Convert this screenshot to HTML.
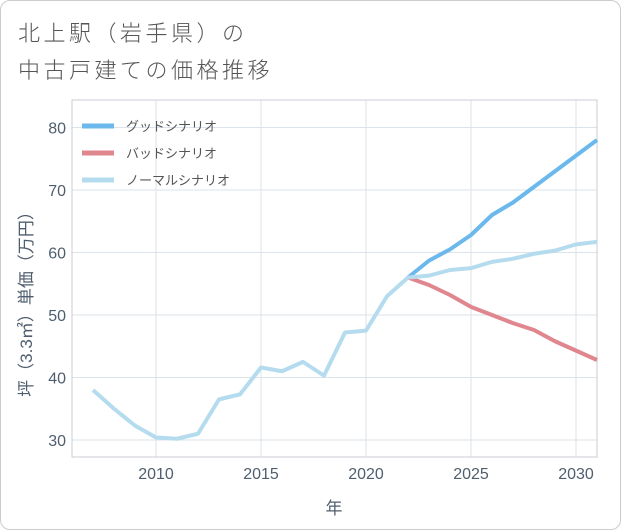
<!DOCTYPE html>
<html><head><meta charset="utf-8">
<style>
body{margin:0;background:#fff;font-family:"Liberation Sans","Noto Sans CJK JP",sans-serif;}
#card{position:absolute;left:0;top:0;width:619px;height:528px;border:1px solid #ccc;border-radius:10px;background:#fff;}
#title{position:absolute;left:18px;top:14px;font-size:22px;letter-spacing:3.5px;line-height:37px;color:#555;font-family:"Noto Sans CJK JP",sans-serif;font-weight:300;}
</style></head><body>
<div id="card"></div>
<div id="title">北上駅（岩手県）の<br>中古戸建ての価格推移</div>
<svg id="chart" width="621" height="530" style="position:absolute;left:0;top:0"></svg>
<script>
const years=[2007,2008,2009,2010,2011,2012,2013,2014,2015,2016,2017,2018,2019,2020,2021,2022,2023,2024,2025,2026,2027,2028,2029,2030,2031];
const normalVals=[38,35,32.3,30.4,30.2,31,36.5,37.3,41.6,41,42.5,40.3,47.2,47.5,53,56,56.3,57.2,57.5,58.5,59,59.8,60.3,61.3,61.7];
const futureYears=[2022,2023,2024,2025,2026,2027,2028,2029,2030,2031];
const goodVals=[56,58.7,60.5,62.8,66,68,70.5,73,75.5,78];
const badVals=[56,54.8,53.2,51.3,50,48.7,47.6,45.8,44.3,42.8];
const xTicks=[2010,2015,2020,2025,2030];
const yTicks=[30,40,50,60,70,80];
const legendNames=["グッドシナリオ","バッドシナリオ","ノーマルシナリオ"];
const legendColors=["#6bb8ec","#e0868e","#b5dcee"];
const X0=72,X1=597,Y0=100,Y1=457;
const xs=y=>156+(y-2010)*21;
const ys=v=>440-(v-30)*6.25;
const svg=document.getElementById('chart');const NS='http://www.w3.org/2000/svg';
function mk(t,a){const e=document.createElementNS(NS,t);for(const k in a)e.setAttribute(k,a[k]);svg.appendChild(e);return e;}
xTicks.forEach(t=>{const l=mk('line',{x1:xs(t),x2:xs(t),y1:Y0,y2:Y1,stroke:'#dde3ea'});


const tx=mk('text',{x:xs(t),y:Y1+22,'text-anchor':'middle','font-size':16,fill:'#4f5e6e'});tx.textContent=t;

});
yTicks.forEach(t=>{const l=mk('line',{x1:X0,x2:X1,y1:ys(t),y2:ys(t),stroke:'#dde3ea'});


const tx=mk('text',{x:X0-6,y:ys(t)+6,'text-anchor':'end','font-size':16,fill:'#4f5e6e'});tx.textContent=t;

});
const fr=mk('rect',{x:X0,y:Y0,width:X1-X0,height:Y1-Y0,fill:'none',stroke:'#c8ced6'});


function line(xv,yv,c,n){const p=mk('polyline',{points:xv.map((x,i)=>xs(x)+','+ys(yv[i])).join(' '),fill:'none',stroke:c,'stroke-width':4,'stroke-linejoin':'round'});

}
line(futureYears,badVals,legendColors[1],'bad-scenario-line');
line(futureYears,goodVals,legendColors[0],'good-scenario-line');
line(years,normalVals,legendColors[2],'normal-scenario-line');
legendNames.forEach((n,i)=>{const y=126+i*27;
const l=mk('line',{x1:82,x2:114,y1:y,y2:y,stroke:legendColors[i],'stroke-width':5});


const t=mk('text',{x:126,y:y+5,'font-size':13,fill:'#555'});t.textContent=n;

});
const xt=mk('text',{x:334,y:514,'text-anchor':'middle','font-size':17,fill:'#4f5e6e'});xt.textContent='年';


const yt=mk('text',{x:0,y:0,'text-anchor':'middle','font-size':17,fill:'#4f5e6e',transform:'translate(32,300) rotate(-90)'});yt.textContent='坪（3.3㎡）単価（万円）';


</script>
</body></html>
